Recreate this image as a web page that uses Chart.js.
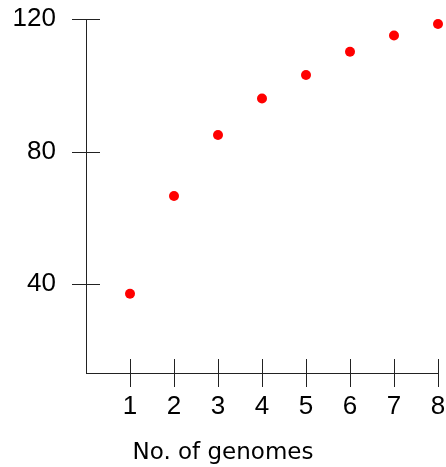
<!DOCTYPE html>
<html><head><meta charset="utf-8">
<script src="https://cdn.jsdelivr.net/npm/chart.js@4/dist/chart.umd.min.js"></script>
<style>html,body{margin:0;padding:0;background:#fff}</style>
</head><body>
<canvas id="c" width="446" height="467" style="display:block;width:446px;height:467px"></canvas>
<script>
const genomes = [1, 2, 3, 4, 5, 6, 7, 8];
const values = [37.1, 66.6, 85.0, 96.0, 103.1, 110.1, 115.0, 118.5];
const xTickValues = [1, 2, 3, 4, 5, 6, 7, 8];
const yTickValues = [40, 80, 120];
const xTitle = 'No. of genomes';

const AXIS_COLOR = '#222';

const crossTicks = {
  id: 'crossTicks',
  afterDraw(chart) {
    const ctx = chart.ctx;
    const xs = chart.scales.x, ys = chart.scales.y;
    const ca = chart.chartArea;
    const L = 14;
    ctx.save();
    ctx.strokeStyle = AXIS_COLOR;
    ctx.lineWidth = 1;
    ctx.beginPath();
    xs.ticks.forEach(t => {
      const px = Math.round(xs.getPixelForValue(t.value)) + 0.5;
      ctx.moveTo(px, ca.bottom - L);
      ctx.lineTo(px, ca.bottom + L);
    });
    ys.ticks.forEach(t => {
      const py = Math.round(ys.getPixelForValue(t.value)) + 0.5;
      ctx.moveTo(ca.left - L, py);
      ctx.lineTo(ca.left + L, py);
    });
    ctx.stroke();
    ctx.restore();
  }
};

const axisTitle = {
  id: 'axisTitle',
  afterDraw(chart) {
    const ctx = chart.ctx;
    const ca = chart.chartArea;
    ctx.save();
    ctx.fillStyle = '#000';
    ctx.font = '23px "DejaVu Sans"';
    ctx.textAlign = 'center';
    ctx.textBaseline = 'alphabetic';
    ctx.fillText(xTitle, ca.left + 137, ca.bottom + 86);
    ctx.restore();
  }
};

function noPad(s) { s.paddingTop = 0; s.paddingBottom = 0; s.paddingLeft = 0; s.paddingRight = 0; }

new Chart(document.getElementById('c'), {
  type: 'scatter',
  data: {
    datasets: [{
      data: genomes.map((g, i) => ({ x: g, y: values[i] })),
      backgroundColor: '#ff0000',
      borderColor: '#ff0000',
      borderWidth: 0,
      pointRadius: 5,
      pointHoverRadius: 5,
      clip: false
    }]
  },
  options: {
    responsive: false,
    animation: false,
    devicePixelRatio: 1,
    layout: { padding: { left: 0, top: 19, right: 8, bottom: 0 } },
    plugins: { legend: { display: false }, tooltip: { enabled: false } },
    scales: {
      x: {
        type: 'linear',
        min: 0, max: 8,
        afterBuildTicks: s => { s.ticks = xTickValues.map(v => ({ value: v })); },
        afterFit: s => { s.height = 94; noPad(s); },
        grid: { display: false, drawTicks: false },
        border: { display: true, color: AXIS_COLOR, width: 1 },
        ticks: {
          color: '#000',
          padding: 18,
          maxRotation: 0,
          font: { family: '"Liberation Sans"', size: 26 }
        }
      },
      y: {
        type: 'linear',
        min: 13.2, max: 120,
        afterBuildTicks: s => { s.ticks = yTickValues.map(v => ({ value: v })); },
        afterFit: s => { s.width = 86; noPad(s); },
        grid: { display: false, drawTicks: false },
        border: { display: true, color: AXIS_COLOR, width: 1 },
        ticks: {
          color: '#000',
          padding: 30,
          font: { family: '"Liberation Sans"', size: 26 }
        }
      }
    }
  },
  plugins: [crossTicks, axisTitle]
});
</script>
</body></html>
